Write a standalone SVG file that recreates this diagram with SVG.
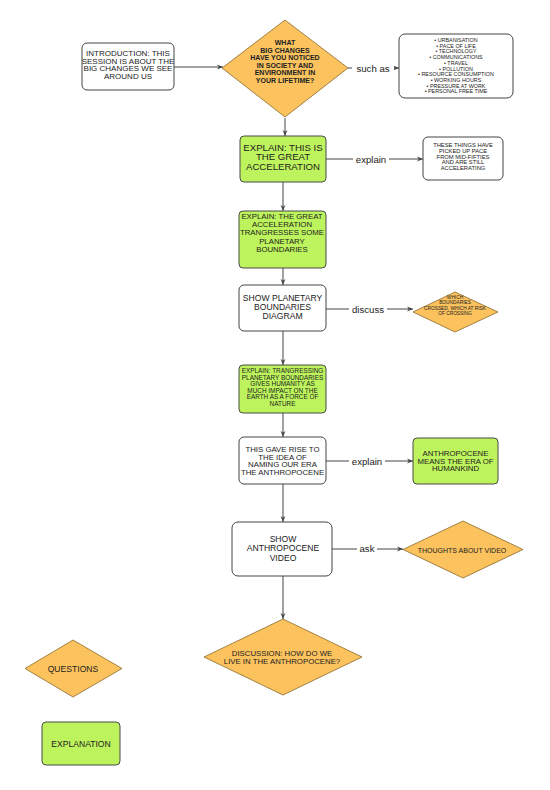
<svg xmlns="http://www.w3.org/2000/svg" width="550" height="790" viewBox="0 0 550 790">
<defs>
<marker id="ah" viewBox="0 0 10 10" refX="10" refY="5" markerWidth="6" markerHeight="6" orient="auto" markerUnits="userSpaceOnUse">
<path d="M0,1 L10,5 L0,9 L3,5 Z" fill="#444"/>
</marker>
<style>
.w{fill:#fff;stroke:#444;stroke-width:1}
.g{fill:#bdf35c;stroke:#4a4a4a;stroke-width:1}
.o{fill:#fbc25e;stroke:#8a6a2a;stroke-width:0.8}
.c{fill:none;stroke:#444;stroke-width:1;marker-end:url(#ah)}
text{font-family:"Liberation Sans",Arial,sans-serif;text-anchor:middle;fill:#222}
.lb{font-size:9.6px;fill:#222}
.lbg{fill:#fff}
.b{font-weight:bold}
</style>
</defs>
<rect width="550" height="790" fill="#fff"/>
<g id="connectors">
<path class="c" d="M174,67 H223"/>
<path class="c" d="M348,68 H399"/>
<path class="c" d="M285,118 V136"/>
<path class="c" d="M326,159 H423"/>
<path class="c" d="M283,182 V211"/>
<path class="c" d="M283,268 V285"/>
<path class="c" d="M326,309 H413"/>
<path class="c" d="M283,331 V365"/>
<path class="c" d="M283,413 V437"/>
<path class="c" d="M326,461 H413"/>
<path class="c" d="M283,484 V522"/>
<path class="c" d="M332,549 H403"/>
<path class="c" d="M283,576 V619"/>
<rect class="lbg" x="352" y="61" width="42" height="14"/>
<text class="lb" x="373" y="72">such as</text>
<rect class="lbg" x="353" y="152" width="36" height="14"/>
<text class="lb" x="371" y="163">explain</text>
<rect class="lbg" x="349" y="302" width="38" height="14"/>
<text class="lb" x="368" y="313">discuss</text>
<rect class="lbg" x="349" y="454" width="36" height="14"/>
<text class="lb" x="367" y="465">explain</text>
<rect class="lbg" x="357" y="542" width="20" height="14"/>
<text class="lb" x="367" y="552">ask</text>
</g>
<g id="intro">
<rect class="w" x="82" y="43" width="92" height="47" rx="5"/>
<text font-size="8"><tspan x="128" y="56">INTRODUCTION: THIS</tspan><tspan x="128" y="63.5">SESSION IS ABOUT THE</tspan><tspan x="128" y="71">BIG CHANGES WE SEE</tspan><tspan x="128" y="78.5">AROUND US</tspan></text>
</g>
<g id="q-changes">
<polygon class="o" points="285,20 348,68 285,117 222,68"/>
<text font-size="7" class="b"><tspan x="285" y="45">WHAT</tspan><tspan x="285" y="52.5">BIG CHANGES</tspan><tspan x="285" y="60">HAVE YOU NOTICED</tspan><tspan x="285" y="67.5">IN SOCIETY AND</tspan><tspan x="285" y="75">ENVIRONMENT IN</tspan><tspan x="285" y="82.5">YOUR LIFETIME?</tspan></text>
</g>
<g id="changes-list">
<rect class="w" x="399" y="34" width="114" height="64" rx="6"/>
<text font-size="5.4"><tspan x="456" y="42">• URBANISATION</tspan><tspan x="456" y="47.7">• PACE OF LIFE</tspan><tspan x="456" y="53.4">• TECHNOLOGY</tspan><tspan x="456" y="59.1">• COMMUNICATIONS</tspan><tspan x="456" y="64.8">• TRAVEL</tspan><tspan x="456" y="70.5">• POLLUTION</tspan><tspan x="456" y="76.2">• RESOURCE CONSUMPTION</tspan><tspan x="456" y="81.9">• WORKING HOURS</tspan><tspan x="456" y="87.6">• PRESSURE AT WORK</tspan><tspan x="456" y="93.3">• PERSONAL FREE TIME</tspan></text>
</g>
<g id="great-acceleration">
<rect class="g" x="240" y="136" width="86" height="46" rx="4"/>
<text font-size="9.6"><tspan x="283" y="150.5">EXPLAIN: THIS IS</tspan><tspan x="283" y="160">THE GREAT</tspan><tspan x="283" y="169.5">ACCELERATION</tspan></text>
</g>
<g id="pace">
<rect class="w" x="423" y="137" width="80" height="43" rx="5"/>
<text font-size="5.8"><tspan x="463" y="147">THESE THINGS HAVE</tspan><tspan x="463" y="152.8">PICKED UP PACE</tspan><tspan x="463" y="158.6">FROM MID-FIFTIES</tspan><tspan x="463" y="164.4">AND ARE STILL</tspan><tspan x="463" y="170.2">ACCELERATING</tspan></text>
</g>
<g id="transgresses">
<rect class="g" x="239" y="211" width="87" height="57" rx="4"/>
<text font-size="7.8"><tspan x="282" y="219">EXPLAIN: THE GREAT</tspan><tspan x="282" y="227.2">ACCELERATION</tspan><tspan x="282" y="235.4">TRANGRESSES SOME</tspan><tspan x="282" y="243.6">PLANETARY</tspan><tspan x="282" y="251.8">BOUNDARIES</tspan></text>
</g>
<g id="show-boundaries">
<rect class="w" x="239" y="285" width="87" height="46" rx="5"/>
<text font-size="8.6"><tspan x="282.5" y="301">SHOW PLANETARY</tspan><tspan x="282.5" y="310">BOUNDARIES</tspan><tspan x="282.5" y="319">DIAGRAM</tspan></text>
</g>
<g id="q-boundaries">
<polygon class="o" points="455,292 498,312 455,332 413,312"/>
<text font-size="4.8"><tspan x="455" y="299">WHICH</tspan><tspan x="455" y="304.3">BOUNDARIES</tspan><tspan x="455" y="309.6">CROSSED, WHICH AT RISK</tspan><tspan x="455" y="314.9">OF CROSSING</tspan></text>
</g>
<g id="force-of-nature">
<rect class="g" x="239" y="365" width="87" height="48" rx="4"/>
<text font-size="6.4"><tspan x="282.5" y="373">EXPLAIN: TRANGRESSING</tspan><tspan x="282.5" y="379.6">PLANETARY BOUNDARIES</tspan><tspan x="282.5" y="386.2">GIVES HUMANITY AS</tspan><tspan x="282.5" y="392.8">MUCH IMPACT ON THE</tspan><tspan x="282.5" y="399.4">EARTH AS A FORCE OF</tspan><tspan x="282.5" y="406">NATURE</tspan></text>
</g>
<g id="naming">
<rect class="w" x="239" y="437" width="87" height="47" rx="5"/>
<text font-size="7.8"><tspan x="282.5" y="451.8">THIS GAVE RISE TO</tspan><tspan x="282.5" y="459.5">THE IDEA OF</tspan><tspan x="282.5" y="467.2">NAMING OUR ERA</tspan><tspan x="282.5" y="474.9">THE ANTHROPOCENE</tspan></text>
</g>
<g id="anthropocene-means">
<rect class="g" x="413" y="438" width="85" height="46" rx="4"/>
<text font-size="7.8"><tspan x="455.5" y="456">ANTHROPOCENE</tspan><tspan x="455.5" y="463.5">MEANS THE ERA OF</tspan><tspan x="455.5" y="471">HUMANKIND</tspan></text>
</g>
<g id="show-video">
<rect class="w" x="232" y="522" width="100" height="54" rx="6"/>
<text font-size="8.6"><tspan x="283" y="542">SHOW</tspan><tspan x="283" y="551.3">ANTHROPOCENE</tspan><tspan x="283" y="560.6">VIDEO</tspan></text>
</g>
<g id="q-video">
<polygon class="o" points="463,521 523,549.5 463,578 403,549.5"/>
<text font-size="7" x="462" y="552.5">THOUGHTS ABOUT VIDEO</text>
</g>
<g id="q-discussion">
<polygon class="o" points="283,619 362,657 283,695 204,657"/>
<text font-size="7.8"><tspan x="282" y="656">DISCUSSION: HOW DO WE</tspan><tspan x="282" y="663.7">LIVE IN THE ANTHROPOCENE?</tspan></text>
</g>
<g id="legend-questions">
<polygon class="o" points="73,640 122,668.5 73,697 25,668.5"/>
<text font-size="8.6" x="73" y="671.5">QUESTIONS</text>
</g>
<g id="legend-explanation">
<rect class="g" x="42" y="722" width="78" height="43" rx="4"/>
<text font-size="8.6" x="81" y="747">EXPLANATION</text>
</g>
</svg>
